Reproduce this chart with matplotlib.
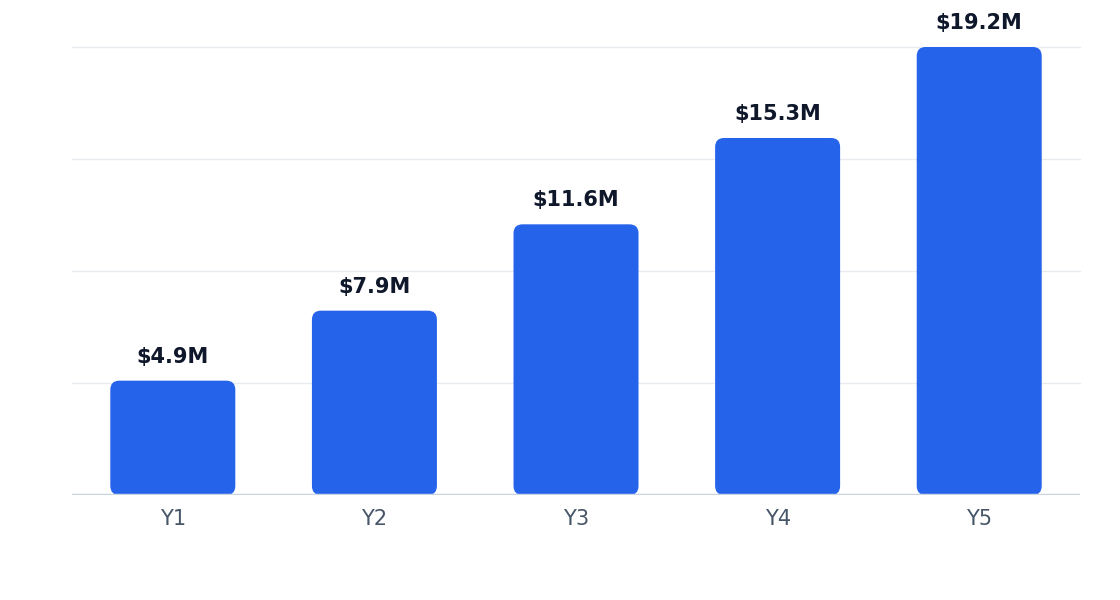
import matplotlib.pyplot as plt
from matplotlib.patches import FancyBboxPatch

# ============================================================
# DATA
# ============================================================

years = ["Y1", "Y2", "Y3", "Y4", "Y5"]
revenue_m = [4.9, 7.9, 11.6, 15.3, 19.2]
labels = ["$4.9M", "$7.9M", "$11.6M", "$15.3M", "$19.2M"]

BAR_COLOR = "#2563eb"
BAR_WIDTH = 0.62

fig = plt.figure(figsize=(11.2, 6), dpi=100)
ax = fig.add_axes([0.0643, 0.175, 0.9, 0.7467])
ax.set_xlim(-0.5, len(years) - 0.5)
ax.set_ylim(0, 19.2)

# pixel -> data scale, so corners come out round
px_x = (len(years)) / (0.9 * 1120)
px_y = 19.2 / (0.7467 * 600)
r_px = 9
for i, v in enumerate(revenue_m):
    patch = FancyBboxPatch(
        (i - BAR_WIDTH / 2 + r_px * px_x, r_px * px_y),
        BAR_WIDTH - 2 * r_px * px_x, v - 2 * r_px * px_y,
        boxstyle=f"round,pad={r_px * px_x}",
        mutation_aspect=px_y / px_x,
        facecolor=BAR_COLOR, edgecolor="none", zorder=3,
    )
    ax.add_patch(patch)
    ax.text(i, v + 0.6, labels[i], ha="center", va="bottom",
            fontsize=15, fontweight="bold", color="#0f172a")

for y in [4.8, 9.6, 14.4, 19.2]:
    ax.axhline(y, color="#e8ebef", linewidth=1, zorder=1, clip_on=False)
ax.axhline(0, color="#cbd5e1", linewidth=2.5, zorder=4)

ax.set_xticks(range(len(years)))
ax.set_xticklabels(years, fontsize=15, color="#475569")
ax.tick_params(axis="x", length=0, pad=10)
ax.set_yticks([])
for s in ax.spines.values():
    s.set_visible(False)

fig.savefig("out.png", dpi=100)
